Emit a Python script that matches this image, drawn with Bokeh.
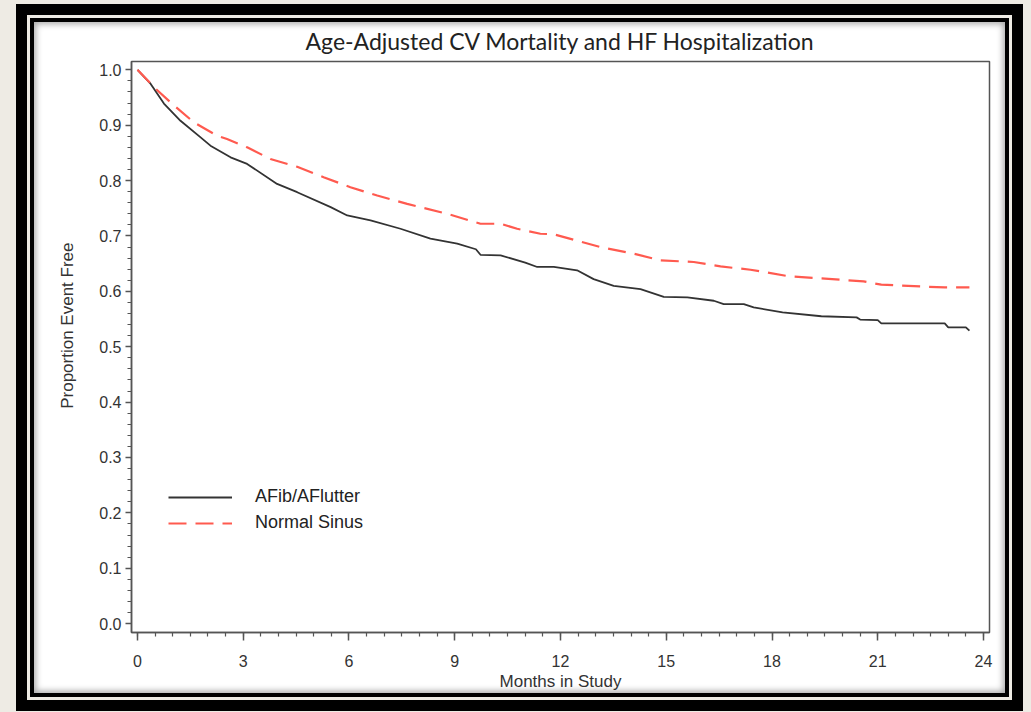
from bokeh.plotting import figure
from bokeh.models import (Range1d, FixedTicker, NumeralTickFormatter, Legend, LegendItem, Title)
from bokeh.embed import file_html
from bokeh.resources import INLINE

# ---- data ----
afib_months = [0, 0.37, 0.75, 1.22, 1.79, 2.07, 2.64, 3.11, 3.96, 4.53, 5.48, 5.95, 6.61,
               7.46, 8.31, 9.07, 9.6, 9.73, 10.3, 11.0, 11.34, 11.81, 12.47, 12.94, 13.51,
               14.27, 14.93, 15.6, 16.35, 16.63, 17.2, 17.48, 18.3, 19.4, 20.4, 20.5,
               21.0, 21.1, 22.9, 23.0, 23.5, 23.6]
afib_surv = [1.0, 0.975, 0.939, 0.908, 0.878, 0.863, 0.842, 0.830, 0.794, 0.779, 0.752, 0.737,
             0.728, 0.713, 0.695, 0.686, 0.676, 0.666, 0.665, 0.652, 0.644, 0.644, 0.638,
             0.622, 0.610, 0.604, 0.590, 0.589, 0.583, 0.577, 0.577, 0.571, 0.562, 0.555,
             0.553, 0.549, 0.548, 0.542, 0.542, 0.535, 0.535, 0.529]

sinus_months = [0, 0.51, 0.94, 1.6, 2.26, 2.54, 3.11, 3.77, 4.53, 5.28, 6.04, 6.8, 7.65, 8.03,
                8.79, 9.73, 10.3, 10.77, 11.43, 11.81, 12.38, 13.13, 14.08, 14.84, 15.78,
                16.54, 17.39, 18.5, 19.5, 20.6, 21.1, 22.9, 23.6]
sinus_surv = [1.0, 0.966, 0.941, 0.905, 0.881, 0.875, 0.860, 0.839, 0.825, 0.806, 0.788, 0.773,
              0.758, 0.752, 0.740, 0.722, 0.722, 0.713, 0.704, 0.703, 0.693, 0.680, 0.668,
              0.656, 0.653, 0.645, 0.639, 0.627, 0.623, 0.618, 0.612, 0.607, 0.607]

series_names = ["AFib/AFlutter", "Normal Sinus"]
title_text = "Age-Adjusted CV Mortality and HF Hospitalization"
x_title = "Months in Study"
y_title = "Proportion Event Free"
x_ticks = [0, 3, 6, 9, 12, 15, 18, 21, 24]
y_ticks = [0.0, 0.1, 0.2, 0.3, 0.4, 0.5, 0.6, 0.7, 0.8, 0.9, 1.0]
x_minor = [i * 0.5 for i in range(49)]
y_minor = [i * 0.02 for i in range(51)]

BEIGE = "#eeebe4"
AX = "#555555"
LBL = "#333333"

W, H = 971, 671
p = figure(width=W, height=H, output_backend="svg", toolbar_location=None,
           x_range=Range1d(-0.17, 24.17), y_range=Range1d(-0.016, 1.015),
           min_border_left=97, min_border_right=16, min_border_top=39, min_border_bottom=61,
           background_fill_color="white", border_fill_color="white", border_fill_alpha=0,
           title=title_text)

# white panel framed by black / beige / black rings and a soft inner shadow
p.margin = (22, 0, 0, 34)
p.styles = {
    "background-color": "white",
    "box-shadow": ("inset 0 0 6px 2px rgba(0,0,0,0.35), 0 0 0 4px black, "
                   "0 0 0 7px %s, 0 0 0 18px black" % BEIGE),
}

p.title.align = "center"
p.title.vertical_align = "top"
p.title.standoff = 9
p.title.text_font = "Lato"
p.title.text_font_size = "23px"
p.title.text_font_style = "normal"
p.title.text_color = "#222222"

p.xgrid.visible = False
p.ygrid.visible = False
p.outline_line_color = AX
p.outline_line_width = 1.5

for ax in (p.xaxis[0], p.yaxis[0]):
    ax.axis_line_color = AX
    ax.axis_line_width = 1.5
    ax.major_tick_line_color = AX
    ax.minor_tick_line_color = AX
    ax.major_tick_line_width = 1.5
    ax.minor_tick_line_width = 1.2
    ax.major_tick_in = 0
    ax.minor_tick_in = 0
    ax.major_label_text_font = "Liberation Sans"
    ax.major_label_text_font_size = "16px"
    ax.major_label_text_color = LBL
    ax.axis_label_text_font = "Liberation Sans"
    ax.axis_label_text_font_size = "17px"
    ax.axis_label_text_font_style = "normal"
    ax.axis_label_text_color = "#333333"

p.xaxis.ticker = FixedTicker(ticks=x_ticks, minor_ticks=x_minor)
p.yaxis.ticker = FixedTicker(ticks=y_ticks, minor_ticks=y_minor)
p.yaxis.formatter = NumeralTickFormatter(format="0.0")
p.xaxis.major_tick_out = 8
p.xaxis.minor_tick_out = 4
p.yaxis.major_tick_out = 6
p.yaxis.minor_tick_out = 4
p.xaxis.major_label_standoff = 14
p.yaxis.major_label_standoff = 4
p.xaxis.axis_label = x_title
p.xaxis.axis_label_standoff = 2

# y-axis title, placed a little above the frame centre as in the original
ytitle = Title(text=y_title, align="right", offset=181, vertical_align="bottom", standoff=40,
               text_font="Liberation Sans", text_font_size="17px",
               text_font_style="normal", text_color="#333333")
p.add_layout(ytitle, "left")

r_afib = p.line(afib_months, afib_surv, line_color="#333333", line_width=1.8)
r_sinus = p.line(sinus_months, sinus_surv, line_color="#ff5a4f", line_width=2.2,
                 line_dash="18 9")

legend = Legend(items=[LegendItem(label=series_names[0], renderers=[r_afib]),
                       LegendItem(label=series_names[1], renderers=[r_sinus])],
                location=(37, 99), padding=0, margin=0, spacing=5,
                glyph_width=64, glyph_height=20, label_height=20, label_standoff=23,
                label_text_font="Liberation Sans", label_text_font_size="18px",
                label_text_color="#222222", border_line_color=None,
                background_fill_alpha=0)
p.add_layout(legend, "center")

html = file_html(p, INLINE)
html = html.replace("<body>", '<body style="background-color:%s;">' % BEIGE)
open("out.html", "w").write(html)
